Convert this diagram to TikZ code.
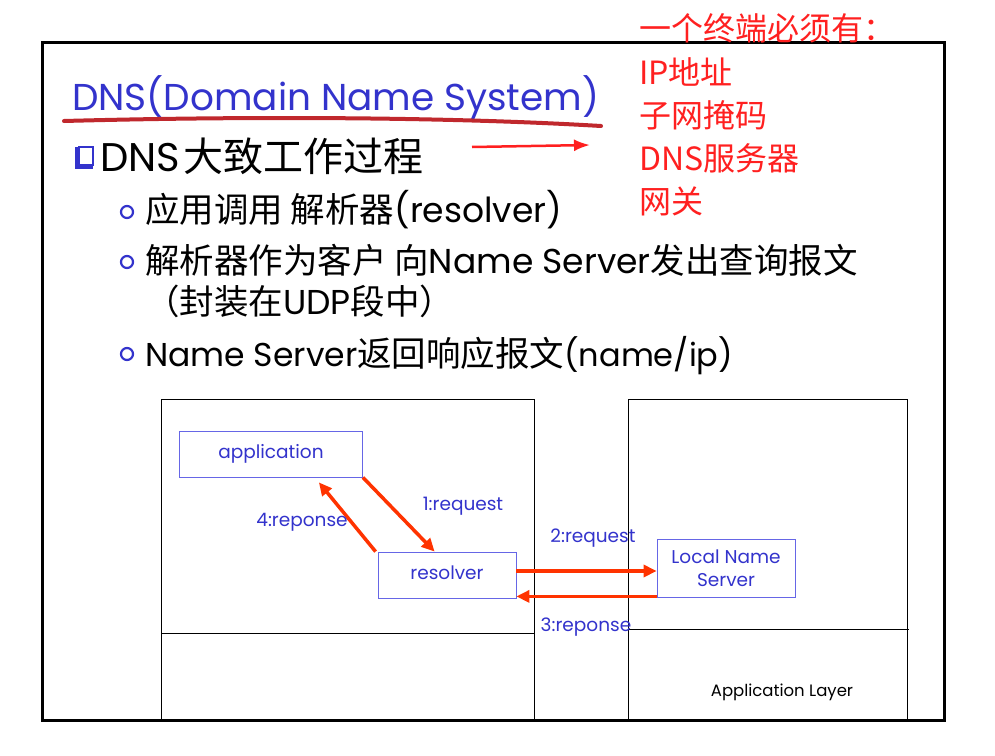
\documentclass[tikz,border=0pt]{standalone}
\usepackage{fontspec}
\setmainfont{Noto Sans CJK SC}
\newfontfamily\lat{Poppins}
\usetikzlibrary{arrows.meta}
\definecolor{tblue}{HTML}{3333CC}
\definecolor{boxblue}{HTML}{6666E6}
\definecolor{arrred}{HTML}{FF3300}
\definecolor{notered}{HTML}{FF2020}
\definecolor{ulred}{HTML}{C0282D}
\tikzset{
  fs/.style={font=\fontsize{#1}{#1}\selectfont},
  blueline/.style={anchor=base west,fs=34.5},
  notetxt/.style={anchor=base west,text=notered,fs=32},
  boxnode/.style={draw=boxblue,line width=0.8pt,inner sep=0pt,text=tblue,font=\lat\fontsize{18.5}{18.5}\selectfont,align=center},
  lbl/.style={text=tblue,font=\lat\fontsize{18.5}{18.5}\selectfont,inner sep=0pt},
  flow/.style={arrred,line width=3.5pt,-{Triangle[length=13pt,width=12pt]}},
  thin/.style={black,line width=0.8pt},
  ring/.style={draw=tblue,line width=2.2pt,circle,minimum size=12pt,inner sep=0pt}
}
\begin{document}
\begin{tikzpicture}[x=1pt,y=-1pt]
\useasboundingbox (0,0) rectangle (995,755);
\fill[white] (0,0) rectangle (995,755);
% outer frame
\draw[line width=3pt] (42,42) rectangle (944,720);
% title
\node[anchor=base west,text=tblue,font=\lat\fontsize{37.4}{37.4}\selectfont,inner sep=0pt] (title) at (72,110) {DNS(Domain Name System)};
\draw[ulred,line width=4pt,line cap=round] (64,121) .. controls (250,116) and (450,117) .. (601,126);
% main bullet
\fill[tblue] (75,147) rectangle (93,169);
\fill[white] (79,147) rectangle (93,165);
\draw[tblue,line width=1.4pt] (79,147) rectangle (93,165);
\node[blueline,fs=40,inner sep=0pt] (h1) at (100,171) {{\lat DNS}\hspace{3pt}大致工作过程};
\coordinate (arrS) at (472,147);
\coordinate (arrE) at (590,145);
\draw[notered,line width=2.5pt,-{Latex[length=16pt,width=12pt]}] (arrS) -- (arrE);
% sub bullets
\node[ring] (b1) at (127,212) {};
\node[ring] (b2) at (127,262) {};
\node[ring] (b3) at (127,354) {};
\node[blueline,inner sep=0pt] (l1) at (145,222) {应用调用 解析器{\lat(resolver)}};
\node[blueline,inner sep=0pt] (l2) at (145,273) {解析器作为客户 向{\lat Name Server}发出查询报文};
\node[blueline,inner sep=0pt] (l3) at (145,314) {（封装在{\lat UDP}段中）};
\node[blueline,inner sep=0pt] (l4) at (145,366) {{\lat\fontsize{33}{33}\selectfont Name Server}返回响应报文{\lat\fontsize{32}{32}\selectfont(name/ip)}};
% red note
\node[notetxt,inner sep=0pt] (n1) at (639,40) {一个终端必须有：};
\node[notetxt,inner sep=0pt] (n2) at (639,84) {IP地址};
\node[notetxt,inner sep=0pt] (n3) at (639,127) {子网掩码};
\node[notetxt,inner sep=0pt] (n4) at (639,170) {DNS服务器};
\node[notetxt,inner sep=0pt] (n5) at (639,213) {网关};
% diagram frames
\draw[thin] (161,399) rectangle (534,720);
\draw[thin] (161,633) -- (534,633);
\draw[thin] (628,399) rectangle (907,720);
\draw[thin] (628,629) -- (909,629);
% boxes
\node[boxnode,minimum width=183pt,minimum height=46pt] (app) at (271,454) {\raisebox{6pt}{application}};
\node[boxnode,minimum width=138pt,minimum height=46pt] (res) at (447,575) {\raisebox{5pt}{resolver}};
\node[boxnode,minimum width=138pt,minimum height=58pt] (lns) at (726,568) {Local Name\\[4pt]Server};
% arrows
\draw[flow] (app.south east) -- ([xshift=57pt]res.north west);
\draw[flow] ([xshift=-2pt]res.north west) -- ([xshift=-44pt,yshift=-5pt]app.south east);
\draw[flow] ([yshift=4pt]res.east) -- ([yshift=4pt]res.east -| lns.west);
\draw[flow] ([yshift=1pt]lns.south west) -- ([yshift=1pt]lns.south west -| res.east);
% labels
\node[lbl] (t1) at (463,506) {1:request};
\node[lbl] (t4) at (302,522) {4:reponse};
\node[lbl] (t2) at (593,538) {2:request};
\node[lbl] (t3) at (586,627) {3:reponse};
\node[font=\lat\fontsize{16.5}{16.5}\selectfont,inner sep=0pt] (al) at (782,692) {Application Layer};
\end{tikzpicture}
\end{document}
